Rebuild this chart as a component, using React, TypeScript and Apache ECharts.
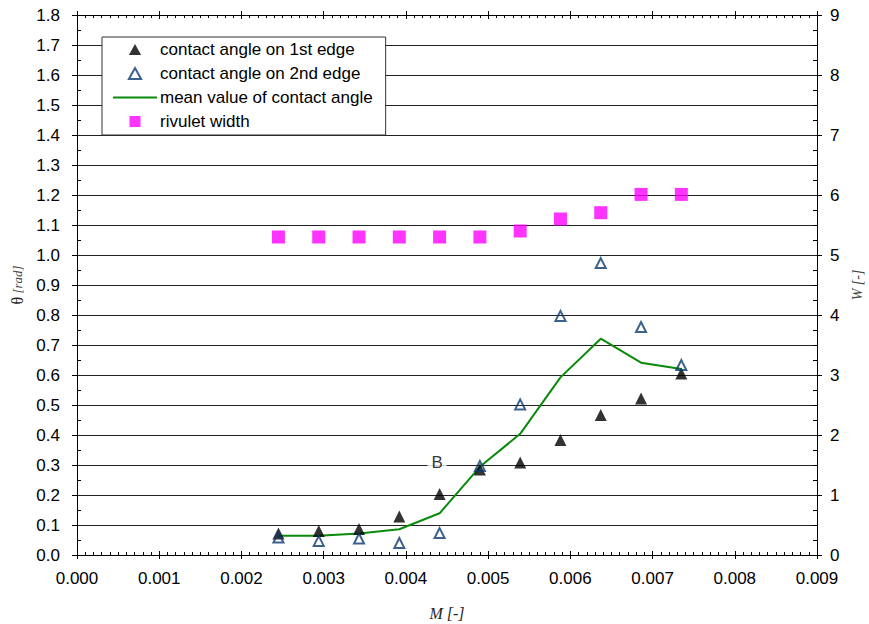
import React, { useEffect, useRef } from 'react';
import * as echarts from 'echarts';

// x values: M [-]
const massFlow = [0.00245, 0.00294, 0.00343, 0.00392, 0.00441, 0.0049, 0.00539, 0.00588, 0.00637, 0.00686, 0.00735];
// contact angles [rad]
const angle1st = [0.072, 0.08, 0.087, 0.128, 0.203, 0.285, 0.308, 0.383, 0.467, 0.522, 0.605];
const angle2nd = [0.058, 0.047, 0.055, 0.04, 0.073, 0.297, 0.502, 0.797, 0.973, 0.76, 0.633];
const angleMean = [0.064, 0.064, 0.072, 0.086, 0.139, 0.294, 0.404, 0.592, 0.721, 0.641, 0.62];
// rivulet width W [-]
const rivuletWidth = [5.3, 5.3, 5.3, 5.3, 5.3, 5.3, 5.4, 5.6, 5.705, 6.01, 6.01];
// annotation
const annotation = [{ x: 0.00438, y: 0.31, text: 'B' }];

const SANS = 'Liberation Sans, Arial, Helvetica, sans-serif';
const SERIF = 'Liberation Serif, Times New Roman, serif';

const GREEN = '#0a8a0a';
const TRIANGLE_ICON = 'path://M5,0 L10,9 L0,9 Z';
const SQUARE_ICON = 'path://M0,0 L10,0 L10,10 L0,10 Z';
const LINE_ICON = 'path://M0,0 L44,0 L44,2 L0,2 Z';

const pairs = (ys: number[]) => massFlow.map((x, i) => [x, ys[i]]);

const gridRect = { left: 77, top: 15, width: 740, height: 540, outerBoundsMode: 'none' };

const option: any = {
  animation: false,
  backgroundColor: '#fff',
  grid: [
    { ...gridRect, z: 1 },
    { ...gridRect, z: 1 },
  ],
  xAxis: [
    {
      type: 'value', gridIndex: 0, position: 'bottom', min: 0, max: 0.009, interval: 0.001,
      axisLine: { show: true, onZero: false, lineStyle: { color: '#000', width: 1 } },
      axisTick: { show: true, inside: false, length: 4, lineStyle: { color: '#000' } },
      axisLabel: { show: true, margin: 15, color: '#000', fontSize: 17, fontFamily: SANS, formatter: (v: number) => v.toFixed(3) },
      splitLine: { show: false },
      name: 'M [-]', nameLocation: 'middle', nameGap: 50,
      nameTextStyle: { fontFamily: SERIF, fontStyle: 'italic', fontSize: 16, color: '#222' },
    },
    {
      type: 'value', gridIndex: 0, position: 'top', min: 0, max: 0.009, interval: 0.001,
      axisLine: { show: true, onZero: false, lineStyle: { color: '#000', width: 1 } },
      axisTick: { show: true, inside: false, length: 4, lineStyle: { color: '#000' } },
      axisLabel: { show: false },
      splitLine: { show: false },
    },
    {
      type: 'value', gridIndex: 1, position: 'bottom', min: 0, max: 0.009, interval: 0.001,
      axisLine: { show: false, onZero: false },
      axisTick: { show: true, inside: true, length: 4, lineStyle: { color: '#000' } },
      minorTick: { show: true, splitNumber: 10, length: 3, lineStyle: { color: '#000' } },
      axisLabel: { show: false },
      splitLine: { show: false },
    },
    {
      type: 'value', gridIndex: 1, position: 'top', min: 0, max: 0.009, interval: 0.001,
      axisLine: { show: false, onZero: false },
      axisTick: { show: true, inside: true, length: 4, lineStyle: { color: '#000' } },
      minorTick: { show: true, splitNumber: 10, length: 3, lineStyle: { color: '#000' } },
      axisLabel: { show: false },
      splitLine: { show: false },
    },
  ],
  yAxis: [
    {
      type: 'value', gridIndex: 0, position: 'left', min: 0, max: 1.8, interval: 0.1,
      axisLine: { show: true, onZero: false, lineStyle: { color: '#000', width: 1 } },
      axisTick: { show: true, inside: false, length: 5, lineStyle: { color: '#000' } },
      axisLabel: { show: true, margin: 17, color: '#000', fontSize: 17, fontFamily: SANS, formatter: (v: number) => v.toFixed(1) },
      splitLine: { show: true, lineStyle: { color: '#222', width: 1 } },
      name: '{t|θ} {r|[rad]}', nameLocation: 'middle', nameGap: 48,
      nameTextStyle: {
        rich: {
          t: { fontFamily: SERIF, fontSize: 16, color: '#222' },
          r: { fontFamily: SERIF, fontStyle: 'italic', fontSize: 13, color: '#444' },
        },
      },
    },
    {
      type: 'value', gridIndex: 0, position: 'right', min: 0, max: 9, interval: 1,
      axisLine: { show: true, onZero: false, lineStyle: { color: '#000', width: 1 } },
      axisTick: { show: true, inside: false, length: 5, lineStyle: { color: '#000' } },
      axisLabel: { show: true, margin: 13, color: '#000', fontSize: 17, fontFamily: SANS, formatter: (v: number) => String(v) },
      splitLine: { show: false },
      name: 'W [-]', nameLocation: 'middle', nameGap: 26,
      nameTextStyle: { fontFamily: SERIF, fontStyle: 'italic', fontSize: 14, color: '#444' },
    },
    {
      type: 'value', gridIndex: 1, position: 'left', min: 0, max: 1.8, interval: 0.1,
      axisLine: { show: false, onZero: false },
      axisTick: { show: false, inside: true },
      minorTick: { show: true, splitNumber: 2, length: 4, lineStyle: { color: '#000' } },
      axisLabel: { show: false },
      splitLine: { show: false },
    },
    {
      type: 'value', gridIndex: 1, position: 'right', min: 0, max: 9, interval: 1,
      axisLine: { show: false, onZero: false },
      axisTick: { show: false, inside: true },
      minorTick: { show: true, splitNumber: 4, length: 4, lineStyle: { color: '#000' } },
      axisLabel: { show: false },
      splitLine: { show: false },
    },
  ],
  legend: {
    orient: 'vertical',
    left: 102,
    top: 37,
    padding: [4, 13, 5, 11],
    itemWidth: 44,
    itemHeight: 11,
    itemGap: 7,
    backgroundColor: '#fff',
    borderColor: '#333',
    borderWidth: 1,
    borderRadius: 0,
    symbolKeepAspect: true,
    textStyle: { fontSize: 17, fontFamily: SANS, color: '#000', padding: [0, 0, 0, -2] },
    selectedMode: false,
    data: [
      { name: 'contact angle on 1st edge', icon: TRIANGLE_ICON },
      { name: 'contact angle on 2nd edge', icon: TRIANGLE_ICON },
      { name: 'mean value of contact angle', icon: LINE_ICON, itemStyle: { color: GREEN, borderWidth: 0 } },
      { name: 'rivulet width', icon: SQUARE_ICON },
    ],
    z: 10,
  },
  series: [
    {
      name: 'contact angle on 1st edge', type: 'scatter', xAxisIndex: 0, yAxisIndex: 0,
      symbol: 'triangle', symbolSize: [12, 12],
      itemStyle: { color: '#000' },
      data: pairs(angle1st), z: 3,
    },
    {
      name: 'mean value of contact angle', type: 'line', xAxisIndex: 0, yAxisIndex: 0,
      symbol: 'none', showSymbol: false,
      lineStyle: { color: GREEN, width: 2 },
      itemStyle: { color: GREEN },
      data: pairs(angleMean), z: 3,
    },
    {
      name: 'contact angle on 2nd edge', type: 'scatter', xAxisIndex: 0, yAxisIndex: 0,
      symbol: 'triangle', symbolSize: [10, 10],
      itemStyle: { color: 'rgba(255,255,255,0)', borderColor: '#0b3a6f', borderWidth: 2 },
      data: pairs(angle2nd), z: 4,
    },
    {
      name: 'rivulet width', type: 'scatter', xAxisIndex: 0, yAxisIndex: 1,
      symbol: 'rect', symbolSize: 13,
      itemStyle: { color: '#ff00ff' },
      data: pairs(rivuletWidth), z: 3,
    },
    {
      name: 'annotation', type: 'scatter', xAxisIndex: 0, yAxisIndex: 0,
      symbolSize: 0, silent: true,
      label: {
        show: true, position: 'inside', formatter: (p: any) => annotation[p.dataIndex].text,
        fontSize: 17, fontFamily: SANS, color: '#000', backgroundColor: '#fff', padding: [1, 4],
      },
      data: annotation.map((a) => [a.x, a.y]), z: 2,
    },
  ],
};

export default function App() {
  const ref = useRef<HTMLDivElement>(null);
  useEffect(() => {
    const chart = echarts.init(ref.current!, null, { renderer: 'svg' });
    chart.setOption(option);
    return () => chart.dispose();
  }, []);
  return (
    <div
      ref={ref}
      style={{ position: 'absolute', left: 0, top: 0, width: 869, height: 624, background: '#fff' }}
    />
  );
}
